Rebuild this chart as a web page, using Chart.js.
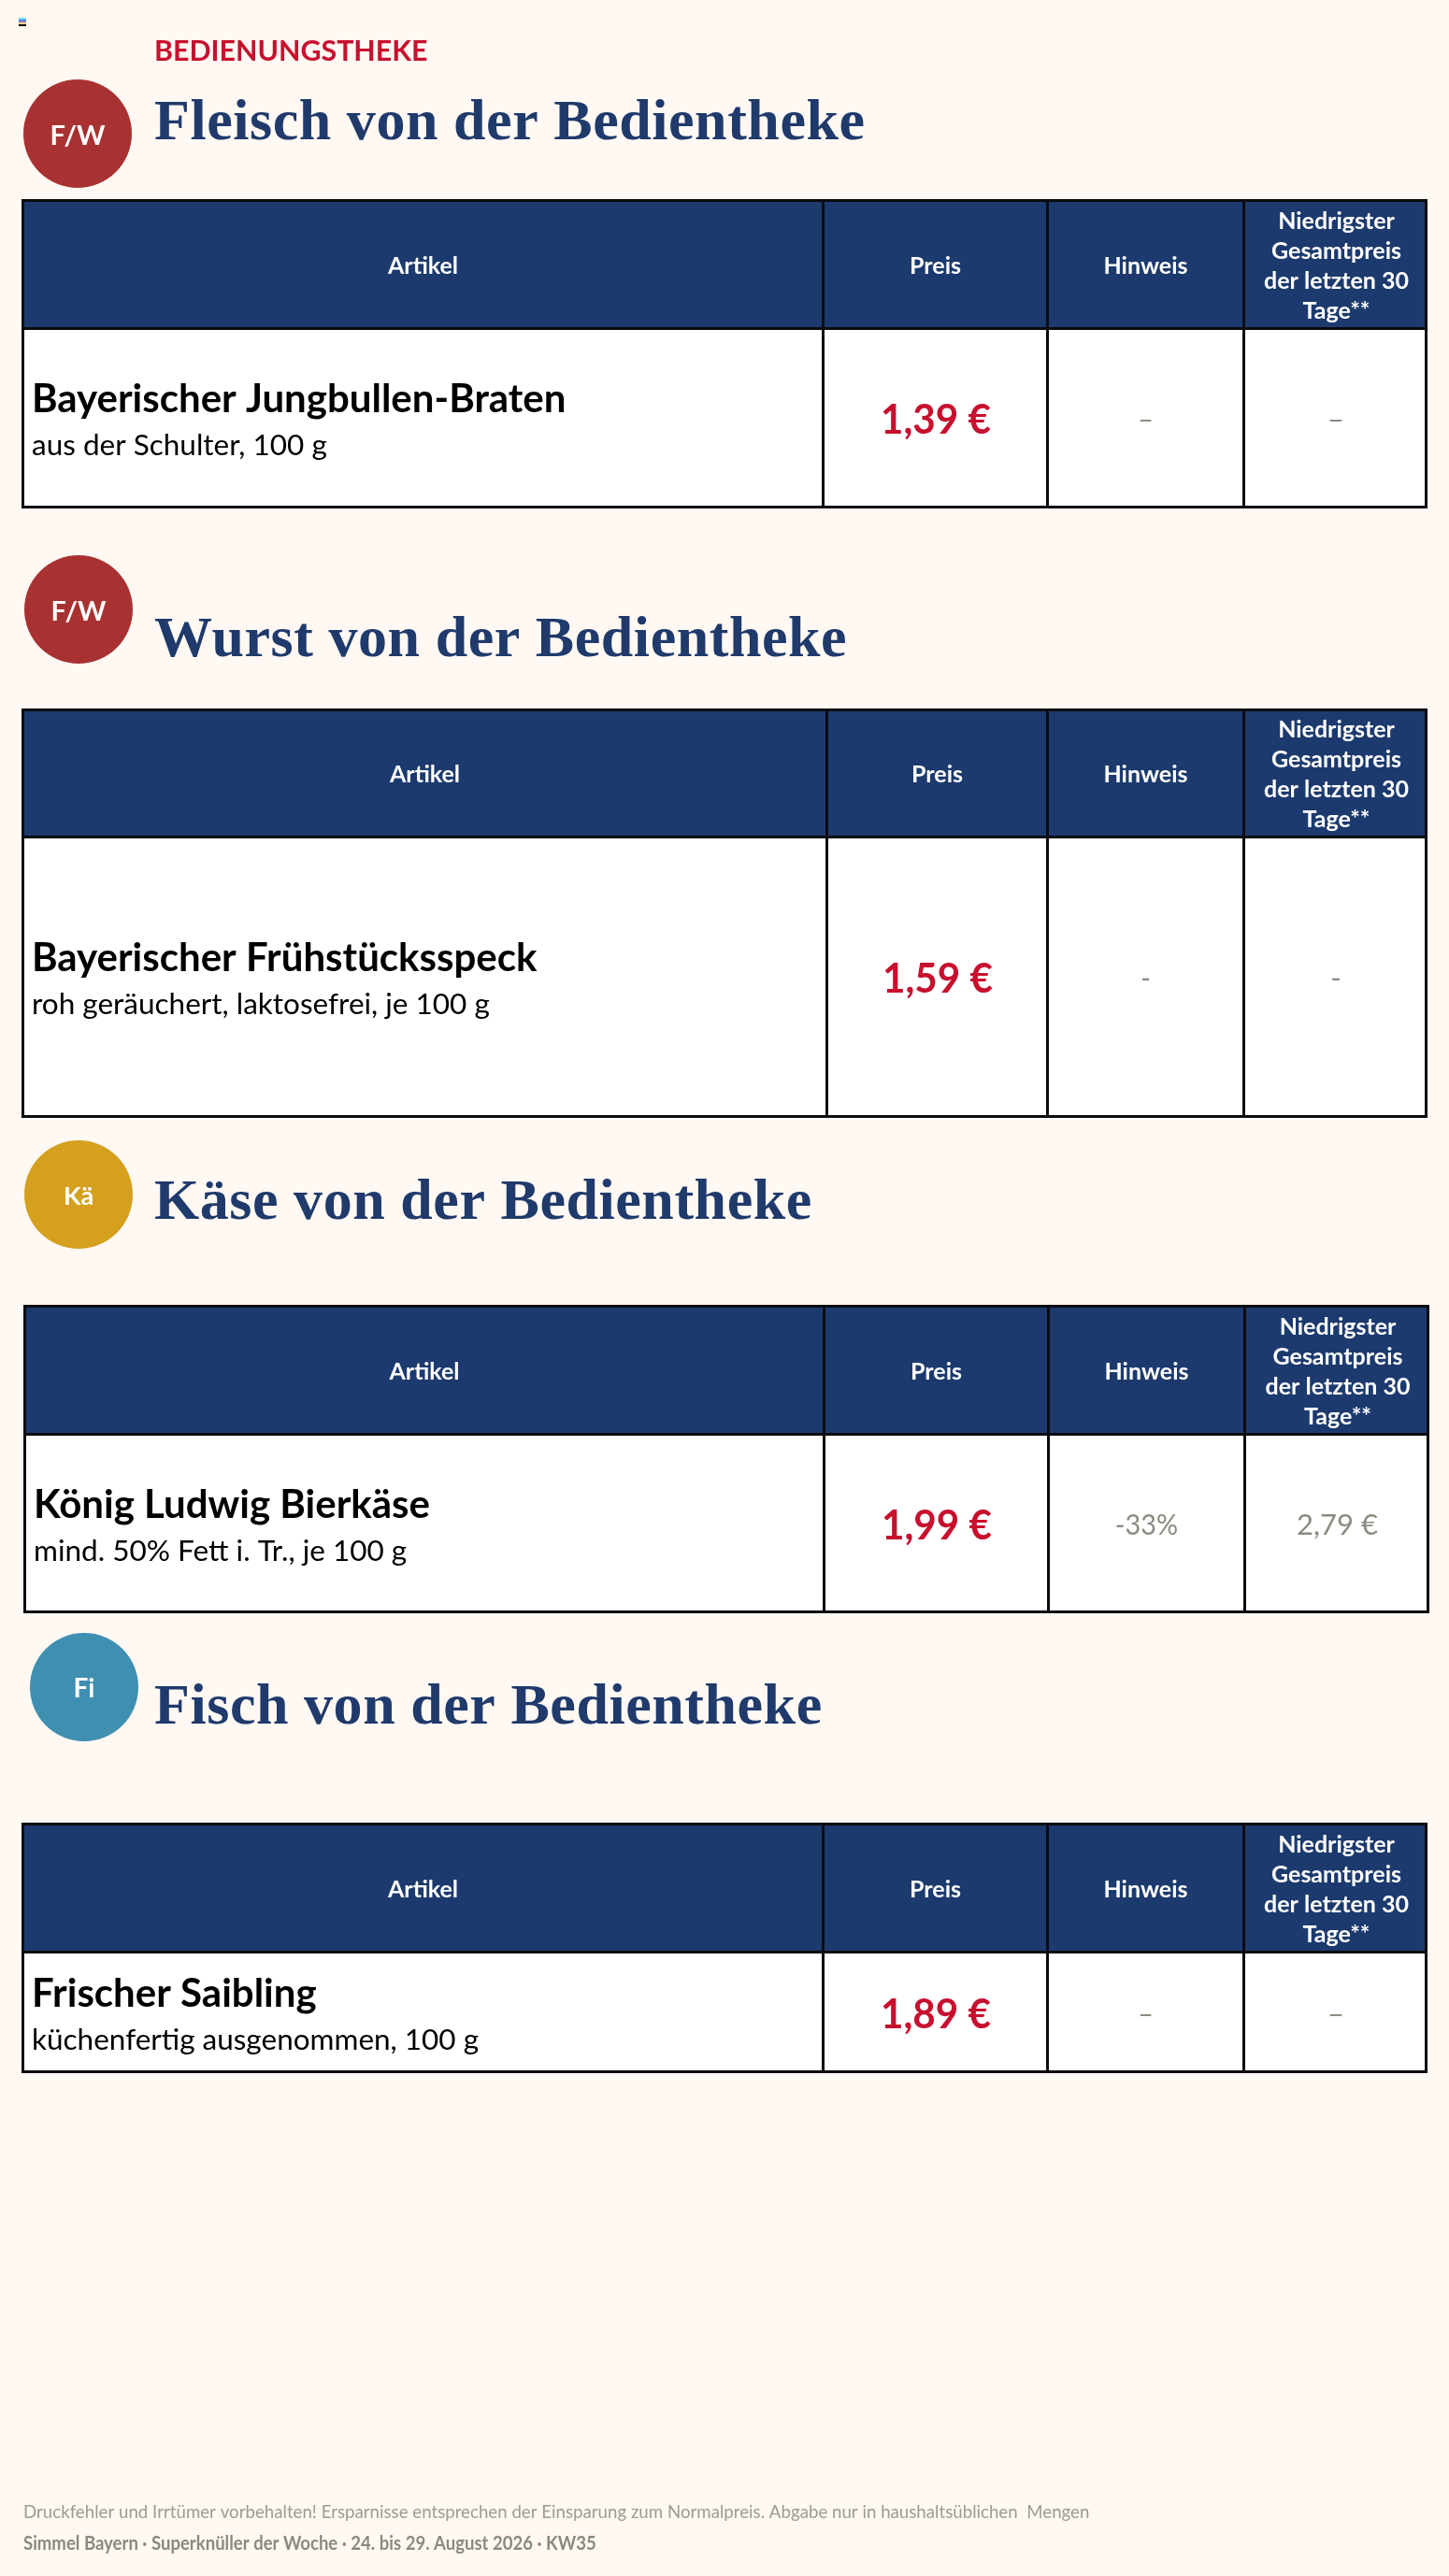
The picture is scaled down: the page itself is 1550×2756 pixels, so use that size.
<!DOCTYPE html>
<html lang="de">
<head>
<meta charset="utf-8">
<title>Bedienungstheke</title>
<script src="https://cdn.jsdelivr.net/npm/chart.js@4"></script>
<style>
  html, body { margin: 0; padding: 0; background: #fff8f3; }
  canvas { display: block; }
</style>
</head>
<body>
<canvas id="page" width="1550" height="2756"></canvas>
<script>
// texts and values
const pageTitle = 'BEDIENUNGSTHEKE';
const sectionTitles = [
  'Fleisch von der Bedientheke',
  'Wurst von der Bedientheke',
  'Käse von der Bedientheke',
  'Fisch von der Bedientheke',
];
const badgeLabels = ['F/W', 'F/W', 'Kä', 'Fi'];
const columnLabels = [
  ['Artikel'],
  ['Preis'],
  ['Hinweis'],
  ['Niedrigster', 'Gesamtpreis', 'der letzten 30', 'Tage**'],
];
const itemNames = [
  'Bayerischer Jungbullen-Braten',
  'Bayerischer Frühstücksspeck',
  'König Ludwig Bierkäse',
  'Frischer Saibling',
];
const itemDetails = [
  'aus der Schulter, 100 g',
  'roh geräuchert, laktosefrei, je 100 g',
  'mind. 50% Fett i. Tr., je 100 g',
  'küchenfertig ausgenommen, 100 g',
];
const prices = [1.39, 1.59, 1.99, 1.89];
const hints = ['–', '-', '-33%', '–'];
const lowestPrices = ['–', '-', '2,79 €', '–'];
const footerLines = [
  'Druckfehler und Irrtümer vorbehalten! Ersparnisse entsprechen der Einsparung zum Normalpreis. Abgabe nur in haushaltsüblichen  Mengen',
  'Simmel Bayern · Superknüller der Woche · 24. bis 29. August 2026 · KW35',
];

// layout of the page, in page pixels
const tableEdges = [
  [24, 880, 1120, 1330, 1525],
  [24, 884, 1120, 1330, 1525],
  [26, 881, 1121, 1331, 1527],
  [24, 880, 1120, 1330, 1525],
];
const tableRows = [
  [214, 351, 543],
  [759, 895, 1195],
  [1397, 1534, 1725],
  [1951, 2088, 2217],
];
const badgeCenters = [[83, 143], [84, 652], [84, 1278], [90, 1805]];
const badgeRadius = 58;
const badgeFontSizes = [29, 29, 27, 28];
const headingBaselines = [149, 702, 1304, 1844];
const markerBands = [20, 21.8, 23.4, 25, 27];

// colours
const pageColor = '#fff8f3';
const navy = '#1c3a6e';
const headingColor = '#1f3a6b';
const red = '#c8102e';
const grey = '#8b8b80';
const lineColor = '#0c0c10';
const badgeColors = ['#a83232', '#a83232', '#d4a01e', '#3f8fb0'];
const markerColors = ['#6fe6f0', '#5b80e0', '#8f78d8', '#f5d285', '#0c0c0c'];

const sans = 'Lato, "Noto Sans", sans-serif';
const serif = '"Liberation Serif", serif';
const lineWidth = 3;

const formatPrice = (value) => value.toFixed(2).replace('.', ',') + ' €';

// one row of a table as floating horizontal bars, one bar per cell
const rowDataset = (edges, top, bottom, color, isLastRow) => {
  const last = edges.length - 2;
  const extra = isLastRow ? lineWidth - 1 : 0;
  return {
    type: 'bar',
    indexAxis: 'y',
    clip: false,
    backgroundColor: color,
    borderColor: lineColor,
    borderSkipped: false,
    inflateAmount: 0,
    grouped: false,
    barPercentage: 1000,
    categoryPercentage: 1,
    maxBarThickness: bottom - top + extra,
    borderWidth: (ctx) => ({
      top: lineWidth,
      left: lineWidth,
      right: ctx.dataIndex === last ? lineWidth : 0,
      bottom: isLastRow ? lineWidth : 0,
    }),
    data: edges.slice(0, -1).map((edge, i) => ({
      x: [edge - 1, i === last ? edges[i + 1] + 2 : edges[i + 1] - 1],
      y: (top - 1 + bottom - 1 + extra) / 2,
    })),
  };
};

const rowDatasets = [];
tableRows.forEach((rows, t) => {
  rowDatasets.push(rowDataset(tableEdges[t], rows[0], rows[1], navy, false));
  rowDatasets.push(rowDataset(tableEdges[t], rows[1], rows[2], '#ffffff', true));
});

const badgeDataset = {
  type: 'bubble',
  indexAxis: 'x',
  clip: false,
  backgroundColor: badgeColors,
  borderWidth: 0,
  data: badgeCenters.map((c) => ({ x: c[0], y: c[1], r: badgeRadius })),
};

const markerDataset = {
  type: 'bar',
  indexAxis: 'y',
  clip: false,
  backgroundColor: markerColors,
  borderWidth: 0,
  inflateAmount: 0,
  grouped: false,
  barPercentage: 1000,
  categoryPercentage: 1,
  maxBarThickness: 2,
  data: markerBands.map((y) => ({ x: [20, 28], y: y })),
};

// squeeze narrows Lato to the width of the lettering in the picture
const drawText = (ctx, text, x, y, font, color, align, squeeze) => {
  ctx.font = font;
  ctx.fillStyle = color;
  ctx.textAlign = align;
  ctx.textBaseline = 'alphabetic';
  const width = ctx.measureText(text).width;
  ctx.fillText(text, x, y, width * (squeeze || 1));
};

const textPlugin = {
  id: 'pageText',
  afterDatasetsDraw(chart) {
    const ctx = chart.ctx;
    ctx.save();

    drawText(ctx, pageTitle, 165, 65, 'bold 31px ' + sans, red, 'left', 0.98);

    const badgeMeta = chart.getDatasetMeta(rowDatasets.length);
    badgeMeta.data.forEach((point, i) => {
      const size = badgeFontSizes[i];
      drawText(ctx, badgeLabels[i], point.x, point.y + size * 0.35 + 1.5, 'bold ' + size + 'px ' + sans, '#ffffff', 'center');
      ctx.letterSpacing = '0.55px';
      drawText(ctx, sectionTitles[i], 165, headingBaselines[i], 'bold 62px ' + serif, headingColor, 'left');
      ctx.letterSpacing = '0px';
    });

    sectionTitles.forEach((_, t) => {
      const head = chart.getDatasetMeta(t * 2).data;
      const body = chart.getDatasetMeta(t * 2 + 1).data;

      head.forEach((cell, c) => {
        const center = cell.getCenterPoint();
        const lines = columnLabels[c];
        lines.forEach((line, l) => {
          const y = center.y + 11 + (l - (lines.length - 1) / 2) * 32;
          drawText(ctx, line, center.x + 1.5, y, 'bold 25px ' + sans, '#ffffff', 'center');
        });
      });

      const midY = body[0].getCenterPoint().y;
      const left = tableEdges[t][0] + 10;
      drawText(ctx, itemNames[t], left, midY - 6, 'bold 42px ' + sans, '#000000', 'left');
      drawText(ctx, itemDetails[t], left, midY + 40, '31.5px ' + sans, '#000000', 'left');
      drawText(ctx, formatPrice(prices[t]), body[1].getCenterPoint().x + 2, midY + 17, 'bold 44px ' + sans, red, 'center', 0.96);
      drawText(ctx, hints[t], body[2].getCenterPoint().x + 1.5, midY + 12, '31px ' + sans, grey, 'center', 0.93);
      drawText(ctx, lowestPrices[t], body[3].getCenterPoint().x + 1, midY + 12, '31px ' + sans, grey, 'center');
    });

    drawText(ctx, footerLines[0], 25, 2694, '20px ' + sans, '#9c9c90', 'left', 0.934);
    drawText(ctx, footerLines[1], 25, 2728, 'bold 20px ' + sans, '#8a8a7e', 'left', 0.927);
    ctx.restore();
  },
};

const bgPlugin = {
  id: 'pageBackground',
  beforeDraw(chart) {
    const ctx = chart.ctx;
    ctx.save();
    ctx.fillStyle = pageColor;
    ctx.fillRect(0, 0, chart.width, chart.height);
    ctx.restore();
  },
};

// the bubbles make the library inset the chart area by their radius,
// so the scales start and stop there and one unit stays one page pixel
new Chart(document.getElementById('page').getContext('2d'), {
  type: 'bar',
  data: {
    datasets: [...rowDatasets, badgeDataset, markerDataset],
  },
  plugins: [bgPlugin, textPlugin],
  options: {
    responsive: false,
    animation: false,
    devicePixelRatio: 1,
    indexAxis: 'y',
    layout: { padding: 0 },
    plugins: {
      legend: { display: false },
      tooltip: { enabled: false },
    },
    scales: {
      x: { type: 'linear', min: badgeRadius, max: 1550 - badgeRadius, offset: false, display: false },
      y: { type: 'linear', min: badgeRadius, max: 2756 - badgeRadius, reverse: true, offset: false, display: false },
    },
  },
});
</script>
</body>
</html>
